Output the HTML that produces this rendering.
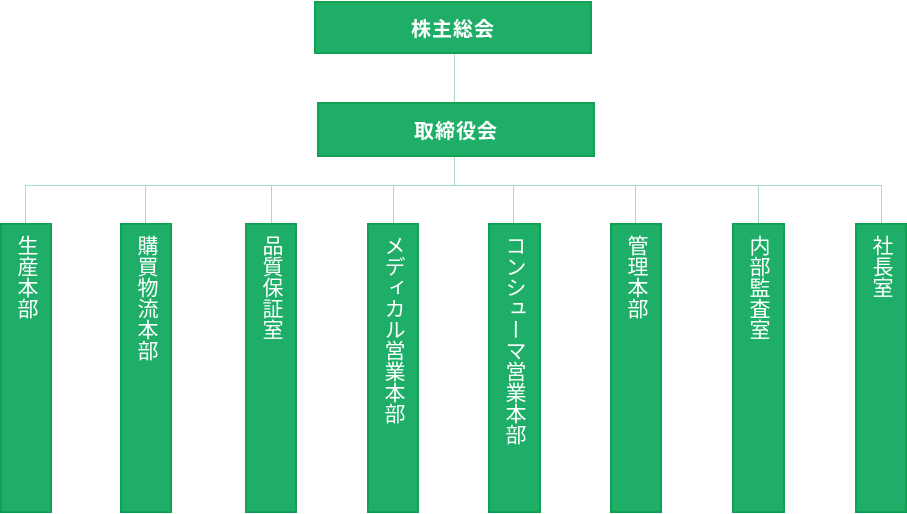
<!DOCTYPE html>
<html><head><meta charset="utf-8"><style>
body{margin:0;width:907px;height:514px;background:#fff;position:relative;overflow:hidden;font-family:"Liberation Sans","Noto Sans CJK JP",sans-serif}
.b{position:absolute;background:#1eae68;border:2px solid #12a055;box-sizing:border-box;color:#fff}
.h{display:flex;align-items:center;justify-content:center;font-size:20px;font-weight:bold;letter-spacing:1px}
.v span{position:absolute;left:12px;top:10px;writing-mode:vertical-rl;font-size:21px;line-height:24px;letter-spacing:0px}
.l{position:absolute;background:#a6dcbf}
</style></head><body>
<div class="l" style="left:454px;top:53px;width:1px;height:50px"></div>
<div class="l" style="left:454px;top:156px;width:1px;height:30px"></div>
<div class="l" style="left:25px;top:185px;width:857px;height:1px"></div>
<div class="l" style="left:25px;top:185px;width:1px;height:40px"></div>
<div class="l" style="left:145px;top:185px;width:1px;height:40px"></div>
<div class="l" style="left:271px;top:185px;width:1px;height:40px"></div>
<div class="l" style="left:393px;top:185px;width:1px;height:40px"></div>
<div class="l" style="left:513px;top:185px;width:1px;height:40px"></div>
<div class="l" style="left:635px;top:185px;width:1px;height:40px"></div>
<div class="l" style="left:758px;top:185px;width:1px;height:40px"></div>
<div class="l" style="left:881px;top:185px;width:1px;height:40px"></div>
<div class="b h" style="left:314px;top:1px;width:278px;height:53px">株主総会</div>
<div class="b h" style="left:317px;top:102px;width:278px;height:55px">取締役会</div>
<div class="b v" style="left:0px;top:223px;width:52px;height:290px"><span>生産本部</span></div>
<div class="b v" style="left:120px;top:223px;width:52px;height:290px"><span>購買物流本部</span></div>
<div class="b v" style="left:245px;top:223px;width:52px;height:290px"><span>品質保証室</span></div>
<div class="b v" style="left:367px;top:223px;width:52px;height:290px"><span>メディカル営業本部</span></div>
<div class="b v" style="left:488px;top:223px;width:53px;height:290px"><span>コンシューマ営業本部</span></div>
<div class="b v" style="left:610px;top:223px;width:52px;height:290px"><span>管理本部</span></div>
<div class="b v" style="left:732px;top:223px;width:53px;height:290px"><span>内部監査室</span></div>
<div class="b v" style="left:855px;top:223px;width:52px;height:290px"><span>社長室</span></div>
</body></html>
